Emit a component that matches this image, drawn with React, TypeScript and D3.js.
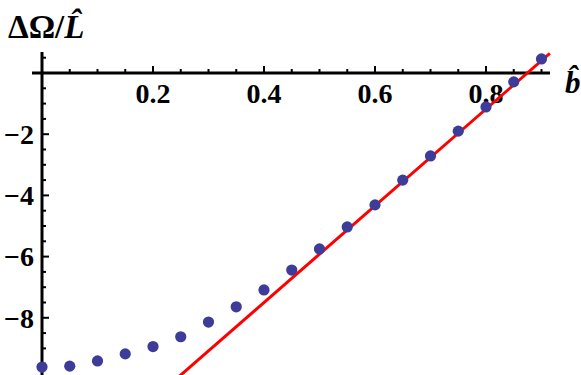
import React, { useEffect, useRef } from "react";
import * as d3 from "d3";

// b-hat values of the sampled points
const bValues = [0, 0.05, 0.1, 0.15, 0.2, 0.25, 0.3, 0.35, 0.4, 0.45, 0.5, 0.55, 0.6, 0.65, 0.7, 0.75, 0.8, 0.85, 0.9];
// ΔΩ/L-hat
const omegaValues = [-9.61, -9.58, -9.41, -9.18, -8.94, -8.62, -8.14, -7.64, -7.09, -6.44, -5.75, -5.03, -4.31, -3.5, -2.71, -1.9, -1.11, -0.29, 0.46];

// straight fit line, two end points
const fitX = [0.245, 0.915];
const fitY = [-9.95, 0.64];

const xTickLabels = [0.2, 0.4, 0.6, 0.8];
const yTickLabels = [-2, -4, -6, -8];

const App = () => {
  const svgRef = useRef<SVGSVGElement>(null);

  useEffect(() => {
    const width = 581;
    const height = 375;
    const svg = d3.select(svgRef.current);
    svg.selectAll("*").remove();
    svg.attr("width", width).attr("height", height).attr("viewBox", `0 0 ${width} ${height}`);

    // scales: origin at (42, 73)
    const x = d3.scaleLinear().domain([0, 0.9]).range([42, 541.5]);
    const y = d3.scaleLinear().domain([0, -8]).range([73, 317.8]);

    const font = "Times New Roman, Liberation Serif, Tinos, DejaVu Serif, serif";

    // --- Axes ---
    svg.append("line")
      .attr("x1", 32).attr("x2", 550)
      .attr("y1", y(0)).attr("y2", y(0))
      .attr("stroke", "#000").attr("stroke-width", 3);

    svg.append("line")
      .attr("x1", x(0)).attr("x2", x(0))
      .attr("y1", 52).attr("y2", height)
      .attr("stroke", "#000").attr("stroke-width", 3);

    // x minor ticks (pointing up)
    const xMinor = d3.range(0.05, 0.91, 0.05).filter((v) => !xTickLabels.some((t) => Math.abs(t - v) < 1e-6));
    svg.selectAll(".xminor")
      .data(xMinor)
      .join("line")
      .attr("x1", (d) => x(d)).attr("x2", (d) => x(d))
      .attr("y1", y(0)).attr("y2", y(0) - 4)
      .attr("stroke", "#000").attr("stroke-width", 2);

    svg.selectAll(".xmajor")
      .data(xTickLabels)
      .join("line")
      .attr("x1", (d) => x(d)).attr("x2", (d) => x(d))
      .attr("y1", y(0)).attr("y2", y(0) - 7)
      .attr("stroke", "#000").attr("stroke-width", 2);

    svg.selectAll(".xlabel")
      .data(xTickLabels)
      .join("text")
      .attr("x", (d) => x(d))
      .attr("y", 103)
      .attr("text-anchor", "middle")
      .attr("font-family", font)
      .attr("font-weight", "bold")
      .attr("font-size", 28)
      .text((d) => d.toFixed(1));

    // y minor ticks (pointing right)
    const yMinor = d3.range(-9.5, 0.6, 0.5).filter((v) => Math.abs(v) > 1e-6 && !yTickLabels.some((t) => Math.abs(t - v) < 1e-6));
    svg.selectAll(".yminor")
      .data(yMinor)
      .join("line")
      .attr("x1", x(0)).attr("x2", x(0) + 4)
      .attr("y1", (d) => y(d)).attr("y2", (d) => y(d))
      .attr("stroke", "#000").attr("stroke-width", 2);

    svg.selectAll(".ymajor")
      .data(yTickLabels)
      .join("line")
      .attr("x1", x(0)).attr("x2", x(0) + 7)
      .attr("y1", (d) => y(d)).attr("y2", (d) => y(d))
      .attr("stroke", "#000").attr("stroke-width", 2);

    svg.selectAll(".ylabel")
      .data(yTickLabels)
      .join("text")
      .attr("x", 34)
      .attr("y", (d) => y(d))
      .attr("dy", "0.35em")
      .attr("text-anchor", "end")
      .attr("font-family", font)
      .attr("font-weight", "bold")
      .attr("font-size", 28)
      .text((d) => `\u2212${Math.abs(d)}`);

    // --- Fit line ---
    const line = d3.line<number>()
      .x((d) => x(d))
      .y((_, i) => y(fitY[i]));
    svg.append("path")
      .attr("d", line(fitX))
      .attr("fill", "none")
      .attr("stroke", "#ff0000")
      .attr("stroke-width", 3);

    // --- Points ---
    svg.selectAll(".dot")
      .data(bValues)
      .join("circle")
      .attr("cx", (d) => x(d))
      .attr("cy", (_, i) => y(omegaValues[i]))
      .attr("r", 5.6)
      .attr("fill", "#3d3d99");

    // --- Axis labels ---
    const title = svg.append("text")
      .attr("x", 8)
      .attr("y", 38)
      .attr("font-family", font)
      .attr("font-weight", "bold")
      .attr("font-size", 33);
    title.append("tspan").text("ΔΩ/");
    title.append("tspan").attr("font-style", "italic").text("L\u0302");

    svg.append("text")
      .attr("x", 565)
      .attr("y", 93)
      .attr("font-family", font)
      .attr("font-weight", "bold")
      .attr("font-style", "italic")
      .attr("font-size", 31)
      .text("b\u0302");
  }, []);

  return (
    <svg
      ref={svgRef}
      style={{ position: "absolute", left: 0, top: 0, display: "block", background: "#fff" }}
    ></svg>
  );
};

export default App;
